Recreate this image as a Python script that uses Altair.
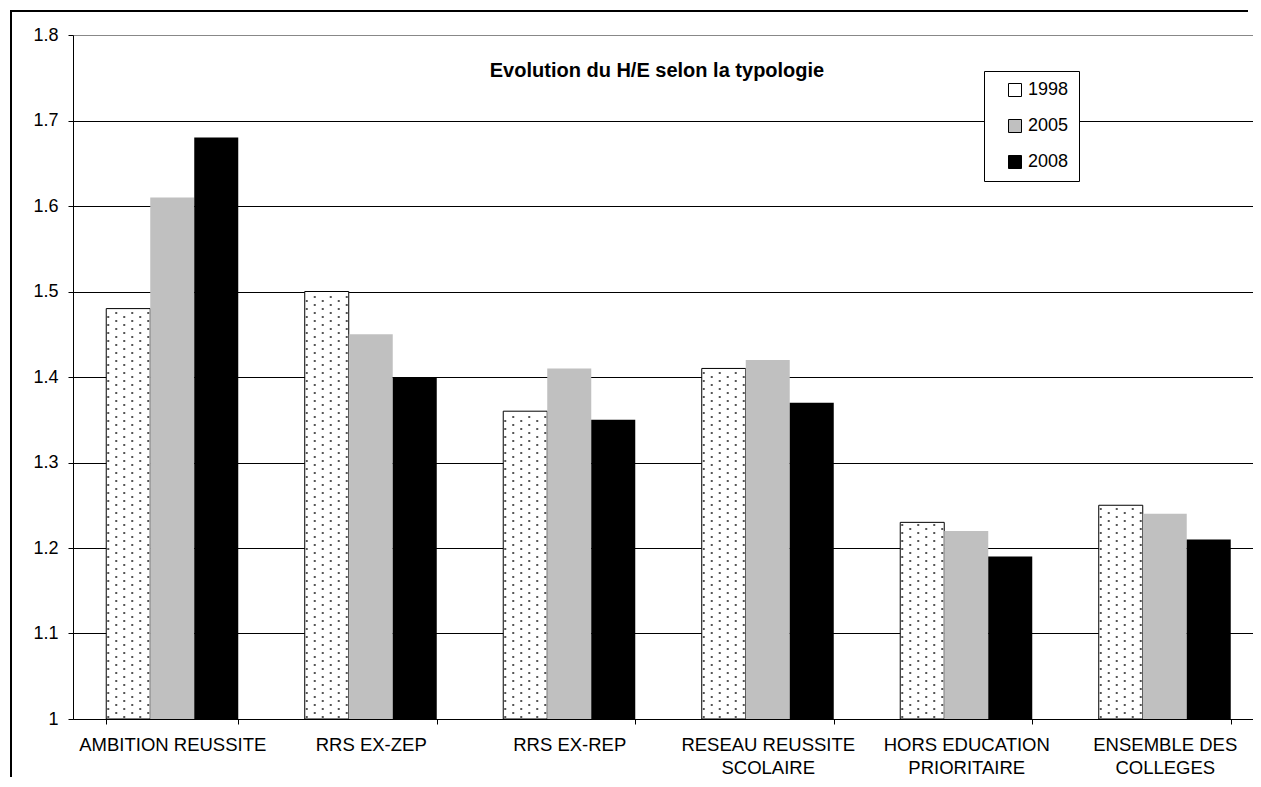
import altair as alt
import pandas as pd

categories = [
    "AMBITION REUSSITE",
    "RRS EX-ZEP",
    "RRS EX-REP",
    "RESEAU REUSSITE\nSCOLAIRE",
    "HORS EDUCATION\nPRIORITAIRE",
    "ENSEMBLE DES\nCOLLEGES",
]
years = ["1998", "2005", "2008"]
v1998 = [1.48, 1.50, 1.36, 1.41, 1.23, 1.25]
v2005 = [1.61, 1.45, 1.41, 1.42, 1.22, 1.24]
v2008 = [1.68, 1.40, 1.35, 1.37, 1.19, 1.21]
y_ticks = [1.0, 1.1, 1.2, 1.3, 1.4, 1.5, 1.6, 1.7, 1.8]
title_text = "Evolution du H/E selon la typologie"

colors = ["#FFFFFF", "#C0C0C0", "#000000"]

rows = []
for i, c in enumerate(categories):
    for y, vals in zip(years, [v1998, v2005, v2008]):
        rows.append({"category": c, "idx": i, "year": y, "value": vals[i]})
df = pd.DataFrame(rows)

PW = 1191  # plot range width
STEP_PX = PW / len(categories)
P_IN = 0.335
P_OUT = P_IN / 2
S = 0.8 / 684 * 4  # 4px row spacing for the dotted texture, in data units

x_scale = alt.Scale(domain=categories, range=[0, PW], paddingInner=P_IN, paddingOuter=P_OUT)
y_scale = alt.Scale(domain=[1, 1.8], nice=False, zero=False)

bars = alt.Chart(df).mark_bar(stroke="black", strokeWidth=1).encode(
    x=alt.X(
        "category:N",
        scale=x_scale,
        sort=categories,
        axis=alt.Axis(
            title=None,
            labelAngle=0,
            labelExpr="split(datum.label, '\\n')",
            tickBand="extent",
            domainColor="black",
            tickColor="black",
            tickSize=5,
            labelFontSize=18.5,
            labelPadding=11,
            labelLineHeight=23,
            labelColor="black",
            labelLimit=400,
            grid=False,
        ),
    ),
    xOffset=alt.XOffset("year:N", sort=years),
    y=alt.Y(
        "value:Q",
        scale=y_scale,
        axis=alt.Axis(
            title=None,
            values=y_ticks,
            format=".1~f",
            grid=True,
            gridColor={"condition": {"test": "datum.value >= 1.79", "value": "#888888"}, "value": "black"},
            domainColor="black",
            tickColor="black",
            tickSize=5,
            labelFontSize=18,
            labelPadding=10,
            labelColor="black",
        ),
    ),
    y2=alt.Y2(datum=1),
    color=alt.Color(
        "year:N",
        scale=alt.Scale(domain=years, range=colors),
        legend=alt.Legend(
            title=None,
            orient="none",
            legendX=911,
            legendY=36,
            direction="vertical",
            fillColor="white",
            strokeColor="black",
            padding=10,
            symbolOffset=12,
            symbolType="square",
            symbolSize=169,
            symbolStrokeColor="black",
            symbolStrokeWidth=1,
            labelFontSize=18,
            labelOffset=4,
            rowPadding=18,
            labelColor="black",
            labelExpr="datum.label + '\u00a0\u00a0\u00a0\u00a0'",
        ),
    ),
    strokeOpacity=alt.condition("datum.year == '1998'", alt.value(1), alt.value(0)),
)

dots = (
    alt.Chart(df)
    .transform_filter("datum.year == '1998'")
    .transform_calculate(r=f"sequence(0, floor((datum.value - 1) / {S}))")
    .transform_flatten(["r"])
    .transform_calculate(c="sequence(0, 3)")
    .transform_flatten(["c"])
    .transform_calculate(dx="2 + 16 * datum.c + 8 * (datum.r % 2)")
    .transform_filter("datum.dx < 43")
    .transform_calculate(
        xq=f"datum.idx + {P_OUT} + datum.dx / {STEP_PX}",
        yq=f"1 + (datum.r + 0.5) * {S}",
    )
    .mark_square(size=4, color="#555555", opacity=1, strokeWidth=0)
    .encode(
        x=alt.X("xq:Q", scale=alt.Scale(domain=[0, len(categories)], range=[0, PW]), axis=None),
        y=alt.Y("yq:Q", scale=y_scale, axis=alt.Axis(title=None)),
    )
)

frame_left = alt.Chart(alt.Data(values=[{}])).mark_rule(color="black", strokeWidth=2).encode(
    x=alt.value(-62), y=alt.value(-24), y2=alt.value(750)
)
frame_top = alt.Chart(alt.Data(values=[{}])).mark_rule(color="black", strokeWidth=2).encode(
    x=alt.value(-63), x2=alt.value(1175), y=alt.value(-24)
)

chart = (
    alt.layer(bars, dots, frame_left, frame_top)
    .resolve_scale(x="independent")
    .properties(
        width=1180,
        height=684,
        autosize=alt.AutoSizeParams(type="none"),
        padding={"left": 65, "top": 27, "right": 0, "bottom": 58},
        title=alt.TitleParams(
            title_text,
            fontSize=20,
            fontWeight="bold",
            anchor="middle",
            offset=-42,
            baseline="alphabetic",
            dy=45,
            dx=-6,
            color="black",
        ),
    )
    .configure(font="Liberation Sans")
    .configure_view(stroke=None)
)

chart.save("out.html", embed_options={"renderer": "svg", "actions": False})
